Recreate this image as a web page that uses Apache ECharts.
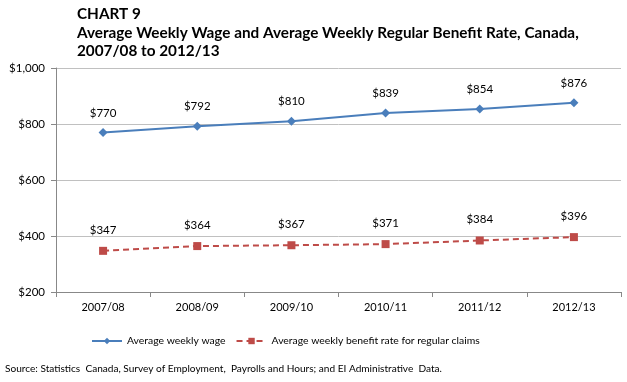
<!DOCTYPE html>
<html><head><meta charset="utf-8">
<script src="https://cdn.jsdelivr.net/npm/echarts@6/dist/echarts.min.js"></script>
<style>html,body{margin:0;padding:0;background:#fff}#c{width:627px;height:382px}</style>
</head><body><div id="c"></div>
<script>
const categories = ['2007/08','2008/09','2009/10','2010/11','2011/12','2012/13'];
const wage = [770,792,810,839,854,876];
const benefit = [347,364,367,371,384,396];
const FONT = 'Lato';
const chart = echarts.init(document.getElementById('c'));
chart.setOption({
  animation:false,
  textStyle:{fontFamily:FONT},
  title:{
    text:'CHART 9\nAverage Weekly Wage and Average Weekly Regular Benefit Rate, Canada,\n2007/08 to 2012/13',
    left:72, top:0,
    textStyle:{fontFamily:FONT,fontSize:15.3,fontWeight:'bold',color:'#000',lineHeight:18.5}
  },
  graphic:[{type:'text',left:5,top:364,style:{text:'Source: Statistics  Canada, Survey of Employment,  Payrolls and Hours; and EI Administrative  Data.',font:'10.1px '+FONT,fill:'#000'}}],
  legend:{
    bottom:31, left:86, itemWidth:30, itemHeight:8, itemGap:10,
    textStyle:{fontFamily:FONT,fontSize:10.4,color:'#000'},
    data:['Average weekly wage','Average weekly benefit rate for regular claims']
  },
  grid:{left:56,right:6,top:68,bottom:90},
  xAxis:{type:'category',data:categories,
    axisLine:{lineStyle:{color:'#888'}},
    axisTick:{show:true,length:5,lineStyle:{color:'#888'}},
    axisLabel:{color:'#000',fontSize:11,margin:10}
  },
  yAxis:{type:'value',min:200,max:1000,interval:200,
    axisLine:{show:true,lineStyle:{color:'#888'}},
    axisTick:{show:true,length:5,lineStyle:{color:'#888'}},
    splitLine:{lineStyle:{color:'#c0c0c0'}},
    axisLabel:{color:'#000',fontSize:11.5,margin:11,formatter:v=>'$'+v.toLocaleString('en-US')}
  },
  series:[
    {name:'Average weekly wage',type:'line',data:wage,symbol:'diamond',symbolSize:9,
     itemStyle:{color:'#4A7EBB'},lineStyle:{color:'#4A7EBB',width:2},
     label:{show:true,position:'top',distance:9,color:'#000',fontSize:11.5,formatter:p=>'$'+p.value}},
    {name:'Average weekly benefit rate for regular claims',type:'line',data:benefit,symbol:'rect',symbolSize:8,
     itemStyle:{color:'#BE4B48'},lineStyle:{color:'#BE4B48',width:2,type:[6,4]},
     label:{show:true,position:'top',distance:11,color:'#000',fontSize:11.5,formatter:p=>'$'+p.value}}
  ]
});
</script></body></html>
